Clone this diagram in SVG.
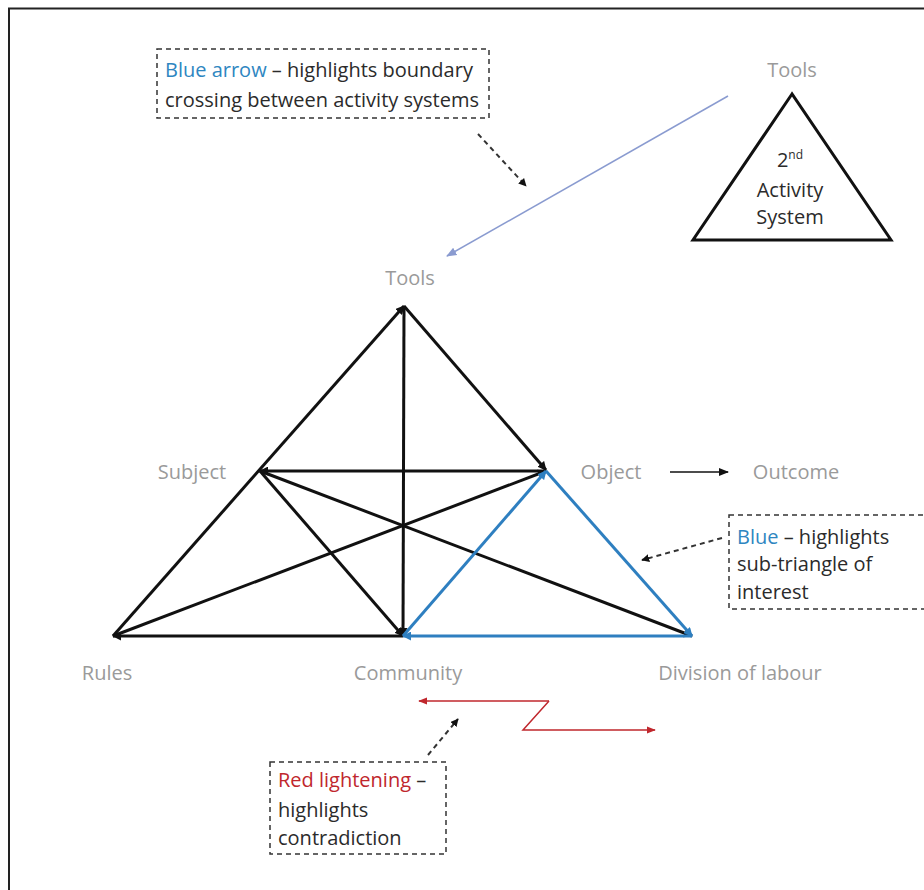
<svg xmlns="http://www.w3.org/2000/svg" width="924" height="890" viewBox="0 0 924 890">
  <defs>
    <style>
      .lbl { font-family: "Open Sans", "Liberation Sans", sans-serif; font-size: 20px; fill: #9a9a9a; }
      .txt { font-family: "Open Sans", "Liberation Sans", sans-serif; font-size: 20px; fill: #2b2b2b; }
      .blue { fill: #2e86c1; }
      .red { fill: #c0272d; }
      .edge { stroke: #111; stroke-width: 3; fill: none; }
      .edge-b { stroke: #2e7fc0; stroke-width: 3; fill: none; }
      .note { fill: none; stroke: #333; stroke-width: 1.5; stroke-dasharray: 5 4; }
      .pointer { stroke: #333; stroke-width: 2; stroke-dasharray: 5 4; fill: none; }
    </style>
    <marker id="tip" viewBox="0 0 10 10" refX="9" refY="5" markerWidth="3" markerHeight="3" orient="auto">
      <path d="M0,0 L10,5 L0,10 z" fill="#111"/>
    </marker>
    <marker id="tipB" viewBox="0 0 10 10" refX="9" refY="5" markerWidth="3" markerHeight="3" orient="auto">
      <path d="M0,0 L10,5 L0,10 z" fill="#2e7fc0"/>
    </marker>
    <marker id="tipThin" viewBox="0 0 10 10" refX="9" refY="5" markerWidth="7" markerHeight="7" orient="auto">
      <path d="M0,1 L10,5 L0,9 z" fill="#111"/>
    </marker>
    <marker id="tipBlueArrow" viewBox="0 0 10 10" refX="9" refY="5" markerWidth="7" markerHeight="7" orient="auto">
      <path d="M0,1 L10,5 L0,9 z" fill="#8a9bd0"/>
    </marker>
    <marker id="tipRed" viewBox="0 0 10 10" refX="9" refY="5" markerWidth="6" markerHeight="6" orient="auto">
      <path d="M0,1 L10,5 L0,9 z" fill="#c0272d"/>
    </marker>
    <marker id="tipDash" viewBox="0 0 10 10" refX="9" refY="5" markerWidth="4" markerHeight="4" orient="auto">
      <path d="M0,0 L10,5 L0,10 z" fill="#111"/>
    </marker>
  </defs>

  <rect width="924" height="890" fill="#fff"/>
  <!-- outer frame -->
  <path d="M9,890 V8.5 H924" fill="none" stroke="#222" stroke-width="2"/>

  <!-- connectors -->
  <g id="connectors">
    <!-- activity triangle -->
    <line class="edge" x1="113" y1="636" x2="404" y2="306" marker-end="url(#tip)"/>
    <line class="edge" x1="404" y1="306" x2="546" y2="470" marker-end="url(#tip)"/>
    <line class="edge" x1="404" y1="306" x2="403" y2="636" marker-end="url(#tip)"/>
    <line class="edge" x1="546" y1="471" x2="260" y2="471" marker-end="url(#tip)"/>
    <line class="edge" x1="260" y1="471" x2="403" y2="636" marker-end="url(#tip)"/>
    <line class="edge" x1="260" y1="471" x2="692" y2="636" marker-end="url(#tip)"/>
    <line class="edge" x1="113" y1="636" x2="546" y2="471" marker-end="url(#tip)"/>
    <line class="edge" x1="403" y1="636" x2="113" y2="636" marker-end="url(#tip)"/>
    <!-- highlighted sub-triangle -->
    <line class="edge-b" x1="403" y1="636" x2="546" y2="471" marker-end="url(#tipB)"/>
    <line class="edge-b" x1="546" y1="471" x2="692" y2="636" marker-end="url(#tipB)"/>
    <line class="edge-b" x1="692" y1="636" x2="403" y2="636" marker-end="url(#tipB)"/>
    <!-- object to outcome -->
    <line x1="670" y1="472" x2="728" y2="472" stroke="#111" stroke-width="1.5" marker-end="url(#tipThin)"/>
    <!-- boundary crossing -->
    <line x1="728" y1="96" x2="447" y2="256" stroke="#8a9bd0" stroke-width="1.5" marker-end="url(#tipBlueArrow)"/>
    <!-- contradiction -->
    <polyline points="549,701 419,701" fill="none" stroke="#c0272d" stroke-width="1.5" marker-end="url(#tipRed)"/>
    <polyline points="549,701 523,730 655,730" fill="none" stroke="#c0272d" stroke-width="1.5" marker-end="url(#tipRed)"/>
    <!-- note pointers -->
    <line class="pointer" x1="478" y1="134" x2="526" y2="186" marker-end="url(#tipDash)"/>
    <line class="pointer" x1="722" y1="538" x2="642" y2="560" marker-end="url(#tipDash)"/>
    <line class="pointer" x1="428" y1="755" x2="458" y2="719" marker-end="url(#tipDash)"/>
  </g>

  <!-- vertex labels -->
  <g id="tools"><text class="lbl" x="410" y="285" text-anchor="middle">Tools</text></g>
  <g id="subject"><text class="lbl" x="192" y="479" text-anchor="middle">Subject</text></g>
  <g id="object"><text class="lbl" x="611" y="479" text-anchor="middle">Object</text></g>
  <g id="outcome"><text class="lbl" x="796" y="479" text-anchor="middle">Outcome</text></g>
  <g id="rules"><text class="lbl" x="107" y="680" text-anchor="middle">Rules</text></g>
  <g id="community"><text class="lbl" x="408" y="680" text-anchor="middle">Community</text></g>
  <g id="division"><text class="lbl" x="740" y="680" text-anchor="middle">Division of labour</text></g>

  <!-- second activity system -->
  <g id="second-system">
    <text class="lbl" x="792" y="77" text-anchor="middle">Tools</text>
    <polygon points="792,94 693,240 891,240" fill="#fff" stroke="#111" stroke-width="3"/>
    <text class="txt" x="790" y="167" text-anchor="middle" font-size="19">2<tspan font-size="12" dy="-8">nd</tspan></text>
    <text class="txt" x="790" y="197" text-anchor="middle" font-size="19">Activity</text>
    <text class="txt" x="790" y="224" text-anchor="middle" font-size="19">System</text>
  </g>

  <!-- notes -->
  <g id="note-boundary">
    <rect class="note" x="157" y="49" width="332" height="69"/>
    <text class="txt" x="165" y="77"><tspan class="blue">Blue arrow</tspan> – highlights boundary</text>
    <text class="txt" x="165" y="107">crossing between activity systems</text>
  </g>
  <g id="note-subtriangle">
    <rect class="note" x="729" y="515" width="200" height="94"/>
    <text class="txt" x="737" y="544"><tspan class="blue">Blue</tspan> – highlights</text>
    <text class="txt" x="737" y="571">sub-triangle of</text>
    <text class="txt" x="737" y="599">interest</text>
  </g>
  <g id="note-contradiction">
    <rect class="note" x="270" y="762" width="176" height="92"/>
    <text class="txt" x="278" y="787"><tspan class="red">Red lightening</tspan> –</text>
    <text class="txt" x="278" y="817">highlights</text>
    <text class="txt" x="278" y="845">contradiction</text>
  </g>
</svg>
